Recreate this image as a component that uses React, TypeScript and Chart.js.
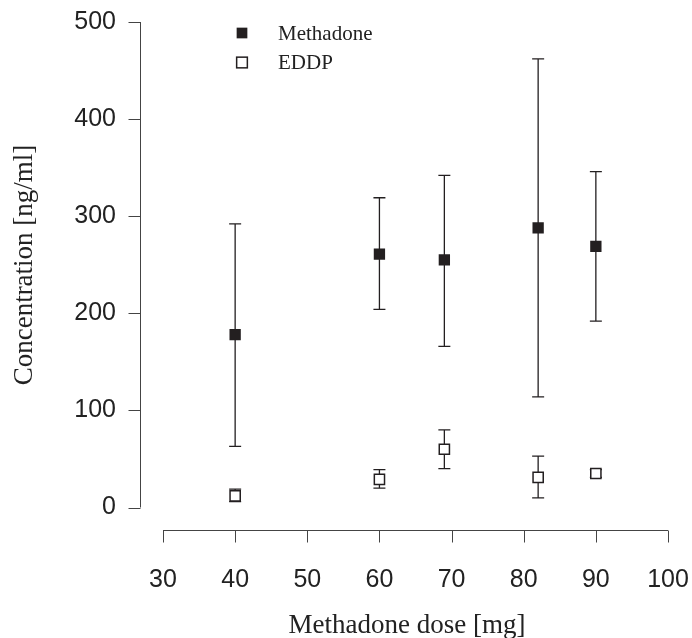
import React, { useEffect, useRef } from "react";
import { Chart, registerables } from "chart.js";

Chart.register(...registerables);

const doses = [40, 60, 69, 82, 90];
const methadoneMean = [178, 261, 255, 288, 269];
const methadoneLow = [63, 204, 166, 114, 192];
const methadoneHigh = [292, 319, 342, 462, 346];
const eddpMean = [12, 29, 60, 31, 35];
const eddpLow = [6, 20, 40, 10, 31];
const eddpHigh = [19, 39, 80, 53, 39];

const xTicks = [30, 40, 50, 60, 70, 80, 90, 100];
const yTicks = [0, 100, 200, 300, 400, 500];
const xTitle = "Methadone dose [mg]";
const yTitle = "Concentration [ng/ml]";
const seriesNames = ["Methadone", "EDDP"];

const INK = "#231f20";
const SANS = '"Liberation Sans", Arial, Helvetica, sans-serif';
const SERIF = '"Liberation Serif", "Times New Roman", Times, serif';

const decorPlugin = {
  id: "rDecor",
  beforeDatasetsDraw(chart: any) {
    const ctx = chart.ctx;
    const xs = chart.scales.x;
    const ys = chart.scales.y;
    ctx.save();
    ctx.strokeStyle = INK;
    ctx.lineWidth = 1.3;
    const cap = 6;
    const bars = [
      [methadoneLow, methadoneHigh],
      [eddpLow, eddpHigh],
    ];
    bars.forEach(([lo, hi]) => {
      doses.forEach((d, i) => {
        const px = xs.getPixelForValue(d);
        const pl = ys.getPixelForValue(lo[i]);
        const ph = ys.getPixelForValue(hi[i]);
        ctx.beginPath();
        ctx.moveTo(px, pl);
        ctx.lineTo(px, ph);
        ctx.moveTo(px - cap, pl);
        ctx.lineTo(px + cap, pl);
        ctx.moveTo(px - cap, ph);
        ctx.lineTo(px + cap, ph);
        ctx.stroke();
      });
    });
    ctx.restore();
  },
  afterDraw(chart: any) {
    const ctx = chart.ctx;
    const xs = chart.scales.x;
    const ys = chart.scales.y;
    ctx.save();
    ctx.strokeStyle = "#444";
    ctx.lineWidth = 1;
    // y axis
    const yAxisX = 140.5;
    const tickLen = 12;
    ctx.beginPath();
    ctx.moveTo(yAxisX, ys.getPixelForValue(yTicks[0]));
    ctx.lineTo(yAxisX, ys.getPixelForValue(yTicks[yTicks.length - 1]));
    yTicks.forEach((t) => {
      const py = Math.round(ys.getPixelForValue(t)) + 0.5;
      ctx.moveTo(yAxisX, py);
      ctx.lineTo(yAxisX - tickLen, py);
    });
    ctx.stroke();
    ctx.fillStyle = "#222";
    ctx.font = "25px " + SANS;
    ctx.textAlign = "right";
    ctx.textBaseline = "middle";
    yTicks.forEach((t) => {
      ctx.fillText(String(t), 116, ys.getPixelForValue(t));
    });
    // x axis
    const xAxisY = 530.5;
    ctx.beginPath();
    ctx.moveTo(xs.getPixelForValue(xTicks[0]), xAxisY);
    ctx.lineTo(xs.getPixelForValue(xTicks[xTicks.length - 1]), xAxisY);
    xTicks.forEach((t) => {
      const px = Math.round(xs.getPixelForValue(t)) + 0.5;
      ctx.moveTo(px, xAxisY);
      ctx.lineTo(px, xAxisY + tickLen);
    });
    ctx.stroke();
    ctx.textAlign = "center";
    ctx.textBaseline = "alphabetic";
    xTicks.forEach((t) => {
      ctx.fillText(String(t), xs.getPixelForValue(t), 587);
    });
    // titles
    ctx.font = "27px " + SERIF;
    ctx.fillStyle = "#222";
    ctx.fillText(xTitle, 407, 633);
    ctx.save();
    ctx.translate(32, 265);
    ctx.rotate(-Math.PI / 2);
    ctx.textAlign = "center";
    ctx.fillText(yTitle, 0, 0);
    ctx.restore();
    // legend
    const lx = 242;
    const ly = [33, 62.5];
    const s = 10.7;
    ctx.fillStyle = INK;
    ctx.fillRect(lx - s / 2, ly[0] - s / 2, s, s);
    ctx.strokeStyle = INK;
    ctx.lineWidth = 1.5;
    ctx.strokeRect(lx - s / 2, ly[1] - s / 2, s, s);
    ctx.fillStyle = "#222";
    ctx.font = "21px " + SERIF;
    ctx.textAlign = "left";
    ctx.textBaseline = "middle";
    ctx.fillText(seriesNames[0], 278, ly[0] + 1);
    ctx.fillText(seriesNames[1], 278, ly[1] + 1);
    ctx.restore();
  },
};

export default function App() {
  const ref = useRef<HTMLCanvasElement | null>(null);
  useEffect(() => {
    if (!ref.current) return;
    const chart = new Chart(ref.current, {
      type: "scatter",
      data: {
        datasets: [
          {
            label: seriesNames[0],
            data: doses.map((d, i) => ({ x: d, y: methadoneMean[i] })),
            pointStyle: "rect",
            pointRadius: 8,
            pointHoverRadius: 8,
            backgroundColor: INK,
            borderColor: INK,
            borderWidth: 0,
          },
          {
            label: seriesNames[1],
            data: doses.map((d, i) => ({ x: d, y: eddpMean[i] })),
            pointStyle: "rect",
            pointRadius: 7.2,
            pointHoverRadius: 7.2,
            backgroundColor: "#ffffff",
            borderColor: INK,
            borderWidth: 1.5,
          },
        ],
      },
      options: {
        animation: false,
        responsive: false,
        devicePixelRatio: 1,
        layout: { padding: { left: 163, right: 24, top: 22, bottom: 130.5 } },
        scales: {
          x: { type: "linear", min: 30, max: 100, display: false },
          y: { type: "linear", min: 0, max: 500, display: false },
        },
        plugins: { legend: { display: false }, tooltip: { enabled: false } },
      },
      plugins: [decorPlugin],
    } as any);
    return () => chart.destroy();
  }, []);
  return (
    <canvas
      ref={ref}
      width={692}
      height={638}
      style={{ position: "absolute", left: 0, top: 0, display: "block" }}
    />
  );
}
